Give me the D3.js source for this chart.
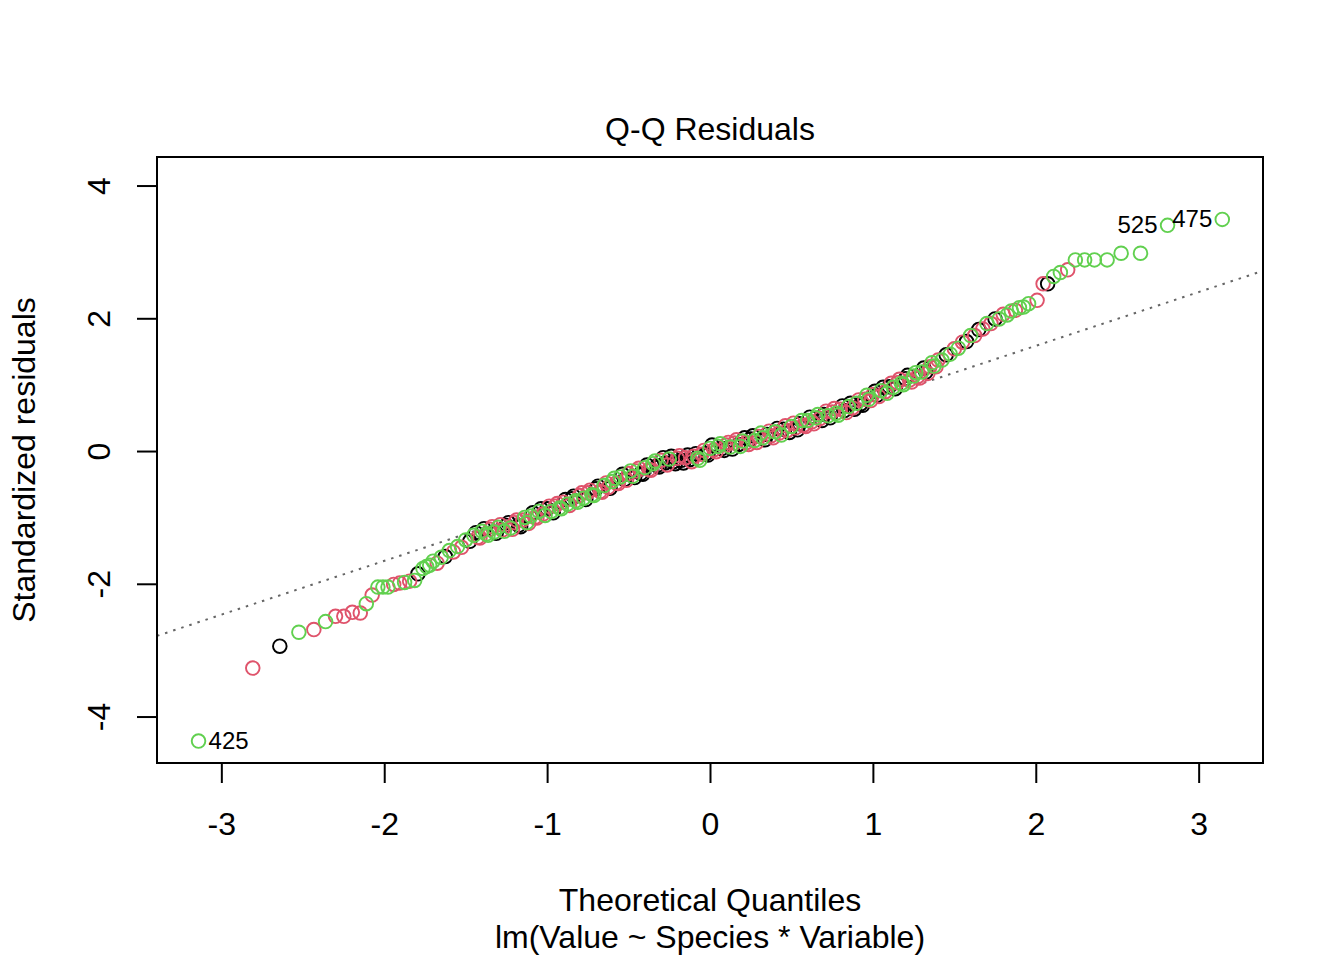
<!DOCTYPE html>
<html>
<head>
<meta charset="utf-8">
<script src="https://cdn.jsdelivr.net/npm/d3@7"></script>
<style>
  html, body { margin: 0; padding: 0; background: #fff; }
  svg { display: block; font-family: "Liberation Sans", Arial, Helvetica, sans-serif; }
</style>
</head>
<body>
<svg id="chart" width="1344" height="960"></svg>
<script>
// theoretical quantiles and standardized residuals
var qx = [
  -3.140, -2.807, -2.641, -2.524, -2.432, -2.360, -2.299, -2.248, -2.196, -2.147,
  -2.110, -2.074, -2.039, -2.008, -1.977, -1.942, -1.905, -1.875, -1.844, -1.813,
  -1.793, -1.762, -1.740, -1.721,
  -1.700, -1.675, -1.650, -1.625, -1.600, -1.575, -1.550, -1.525, -1.500, -1.475,
  -1.450, -1.425, -1.400, -1.375, -1.350, -1.325, -1.300, -1.275, -1.250, -1.225,
  -1.200, -1.175, -1.150, -1.125, -1.100, -1.075, -1.050, -1.025, -1.000, -0.975,
  -0.950, -0.925, -0.900, -0.875, -0.850, -0.825, -0.800, -0.775, -0.750, -0.725,
  -0.700, -0.675, -0.650, -0.625, -0.600, -0.575, -0.550, -0.525, -0.500, -0.475,
  -0.450, -0.425, -0.400, -0.375, -0.350, -0.325, -0.300, -0.275, -0.250, -0.225,
  -0.200, -0.175, -0.150, -0.125, -0.100, -0.075, -0.050, -0.025, 0.000, 0.025,
  0.050, 0.075, 0.100, 0.125, 0.150, 0.175, 0.200, 0.225, 0.250, 0.275,
  0.300, 0.325, 0.350, 0.375, 0.400, 0.425, 0.450, 0.475, 0.500, 0.525,
  0.550, 0.575, 0.600, 0.625, 0.650, 0.675, 0.700, 0.725, 0.750, 0.775,
  0.800, 0.825, 0.850, 0.875, 0.900, 0.925, 0.950, 0.975, 1.000, 1.025,
  1.050, 1.075, 1.100, 1.125, 1.150, 1.175, 1.200, 1.225, 1.250, 1.275,
  1.300, 1.325, 1.350, 1.375, 1.400, 1.425, 1.450, 1.475, 1.500, 1.525,
  1.550, 1.575, 1.600, 1.625, 1.650, 1.675, 1.700, 1.725, 1.750, 1.775,
  1.800, 1.825, 1.850, 1.875, 1.900, 1.925,
  1.956, 2.008, 2.045, 2.073, 2.110, 2.151, 2.196, 2.243, 2.300, 2.360,
  2.438, 2.524, 2.643, 2.809, 3.145,
  // second pass through the crowded middle of the band
  -1.4375, -1.4125, -1.3875, -1.3625, -1.3375, -1.3125, -1.2875, -1.2625, -1.2375, -1.2125,
  -1.1875, -1.1625, -1.1375, -1.1125, -1.0875, -1.0625, -1.0375, -1.0125, -0.9875, -0.9625,
  -0.9375, -0.9125, -0.8875, -0.8625, -0.8375, -0.8125, -0.7875, -0.7625, -0.7375, -0.7125,
  -0.6875, -0.6625, -0.6375, -0.6125, -0.5875, -0.5625, -0.5375, -0.5125, -0.4875, -0.4625,
  -0.4375, -0.4125, -0.3875, -0.3625, -0.3375, -0.3125, -0.2875, -0.2625, -0.2375, -0.2125,
  -0.1875, -0.1625, -0.1375, -0.1125, -0.0875, -0.0625, -0.0375, -0.0125,
  0.0125, 0.0375, 0.0625, 0.0875, 0.1125, 0.1375, 0.1625, 0.1875, 0.2125, 0.2375,
  0.2625, 0.2875, 0.3125, 0.3375, 0.3625, 0.3875, 0.4125, 0.4375, 0.4625, 0.4875,
  0.5125, 0.5375, 0.5625, 0.5875, 0.6125, 0.6375, 0.6625, 0.6875, 0.7125, 0.7375,
  0.7625, 0.7875, 0.8125, 0.8375, 0.8625, 0.8875, 0.9125, 0.9375, 0.9625, 0.9875,
  1.0125, 1.0375, 1.0625, 1.0875, 1.1125, 1.1375, 1.1625, 1.1875, 1.2125, 1.2375,
  1.2625, 1.2875, 1.3125, 1.3375, 1.3625, 1.3875
];
var res = [
  -4.37, -3.27, -2.94, -2.73, -2.69, -2.57, -2.49, -2.49, -2.43, -2.44,
  -2.30, -2.17, -2.05, -2.05, -2.05, -2.01, -1.99, -1.98, -1.96, -1.95,
  -1.85, -1.77, -1.74, -1.72,
  -1.66, -1.69, -1.60, -1.59, -1.50, -1.52, -1.44, -1.45, -1.34, -1.36,
  -1.27, -1.30, -1.21, -1.25, -1.18, -1.22, -1.15, -1.19, -1.12, -1.16,
  -1.08, -1.12, -1.04, -1.08, -0.98, -1.00, -0.91, -0.95, -0.87, -0.91,
  -0.83, -0.86, -0.77, -0.80, -0.72, -0.75, -0.67, -0.71, -0.63, -0.66,
  -0.57, -0.61, -0.52, -0.55, -0.46, -0.48, -0.39, -0.43, -0.34, -0.38,
  -0.30, -0.34, -0.25, -0.28, -0.19, -0.22, -0.14, -0.18, -0.12, -0.16,
  -0.11, -0.14, -0.10, -0.13, -0.08, -0.11, -0.05, -0.04, 0.04, 0.02,
  0.07, 0.04, 0.09, 0.06, 0.12, 0.10, 0.15, 0.13, 0.18, 0.16,
  0.22, 0.20, 0.25, 0.23, 0.29, 0.27, 0.33, 0.31, 0.37, 0.35,
  0.41, 0.39, 0.46, 0.44, 0.50, 0.49, 0.55, 0.53, 0.59, 0.57,
  0.63, 0.61, 0.67, 0.65, 0.72, 0.71, 0.78, 0.78, 0.85, 0.84,
  0.91, 0.89, 0.97, 0.96, 1.03, 1.02, 1.09, 1.07, 1.13, 1.12,
  1.19, 1.19, 1.27, 1.28, 1.37, 1.37, 1.45, 1.46, 1.54, 1.55,
  1.64, 1.65, 1.74, 1.74, 1.83, 1.84, 1.92, 1.92, 1.99, 1.99,
  2.06, 2.05, 2.11, 2.12, 2.16, 2.17,
  2.22, 2.27, 2.52, 2.52, 2.63, 2.69, 2.73, 2.88, 2.88, 2.88,
  2.88, 2.98, 2.98, 3.40, 3.49,
  -1.23, -1.31, -1.17, -1.27, -1.14, -1.24, -1.11, -1.21, -1.08, -1.18,
  -1.04, -1.14, -1.00, -1.09, -0.93, -1.01, -0.87, -0.97, -0.83, -0.93,
  -0.79, -0.87, -0.73, -0.82, -0.68, -0.77, -0.63, -0.73, -0.59, -0.67,
  -0.53, -0.62, -0.48, -0.56, -0.41, -0.49, -0.35, -0.44, -0.30, -0.40,
  -0.26, -0.35, -0.21, -0.29, -0.15, -0.24, -0.10, -0.21, -0.08, -0.19,
  -0.07, -0.18, -0.06, -0.16, -0.04, -0.14, 0.01, -0.06,
  0.09, -0.01, 0.11, 0.01, 0.13, 0.03, 0.17, 0.07, 0.20, 0.10,
  0.23, 0.13, 0.27, 0.17, 0.30, 0.20, 0.34, 0.24, 0.38, 0.28,
  0.42, 0.32, 0.46, 0.37, 0.51, 0.41, 0.55, 0.46, 0.60, 0.50,
  0.64, 0.54, 0.68, 0.58, 0.72, 0.63, 0.77, 0.69, 0.84, 0.76,
  0.90, 0.82, 0.96, 0.87, 1.02, 0.94, 1.08, 1.00, 1.14, 1.04,
  1.18, 1.10, 1.25, 1.17, 1.33, 1.27
];
// species: 0 setosa, 1 versicolor, 2 virginica
var grp = [
  2, 1, 0, 2, 1, 2, 1, 1, 1, 1,
  2, 1, 2, 2, 2, 1, 1, 2, 1, 2,
  0, 2, 2, 2,
  2, 1, 2, 0, 2, 1, 2, 1, 2, 0,
  2, 1, 2, 2, 1, 2, 2, 1, 0, 2,
  1, 0, 1, 2, 2, 1, 2, 1, 0, 2,
  1, 2, 1, 2, 0, 2, 1, 2, 1, 2,
  0, 1, 2, 1, 2, 1, 2, 0, 1, 2,
  1, 0, 2, 1, 2, 0, 1, 0, 2, 0,
  1, 0, 1, 0, 1, 2, 1, 0, 2, 1,
  2, 0, 1, 2, 1, 0, 2, 1, 0, 2,
  1, 2, 0, 1, 2, 1, 0, 1, 2, 1,
  0, 1, 2, 1, 2, 1, 0, 2, 1, 2,
  1, 0, 2, 1, 2, 0, 1, 2, 1, 0,
  2, 1, 0, 2, 1, 2, 0, 1, 2, 1,
  2, 0, 1, 2, 1, 2, 0, 2, 1, 2,
  1, 0, 2, 1, 0, 1, 2, 1, 0, 2,
  1, 2, 2, 1, 2, 2,
  2, 1, 1, 0, 2, 2, 1, 2, 2, 2,
  2, 2, 2, 2, 2,
  0, 1, 0, 2, 1, 0, 1, 2, 0, 1,
  1, 0, 2, 1, 0, 1, 0, 2, 1, 0,
  1, 2, 0, 1, 0, 2, 1, 0, 1, 2,
  0, 1, 1, 0, 2, 1, 0, 1, 2, 0,
  1, 0, 0, 1, 2, 0, 0, 1, 0, 0,
  1, 0, 0, 1, 0, 2, 1, 0,
  0, 1, 2, 0, 1, 0, 1, 2, 0, 1,
  0, 1, 2, 0, 1, 1, 0, 2, 1, 0,
  1, 0, 2, 1, 0, 1, 2, 0, 1, 0,
  1, 2, 0, 1, 0, 0, 1, 0, 2, 1,
  0, 1, 0, 2, 1, 0, 1, 2, 0, 1,
  2, 1, 0, 1, 2, 1
];
var idLabels = [{at: 0, text: "425"}, {at: 184, text: "475"}, {at: 183, text: "525"}];
var xTicks = [-3, -2, -1, 0, 1, 2, 3];
var yTicks = [-4, -2, 0, 2, 4];
var qqLine = {intercept: -0.035, slope: 0.81};
var colors = ["#000000", "#DF536B", "#61D04F"];

var box = {left: 157, right: 1263, top: 157, bottom: 763};
var svg = d3.select("#chart");

var x = d3.scaleLinear().domain([-3.395, 3.395]).range([box.left, box.right]);
var y = d3.scaleLinear().domain([-4.70, 4.43]).range([box.bottom, box.top]);

var pts = qx.map(function(v, i){ return {x: v, y: res[i], g: grp[i], i: i}; });
// drawn setosa first, virginica on top
pts.sort(function(a, b){ return a.g - b.g || a.i - b.i; });

svg.append("clipPath").attr("id", "plotclip").append("rect")
  .attr("x", box.left).attr("y", box.top)
  .attr("width", box.right - box.left).attr("height", box.bottom - box.top);

// dotted qq line
var xd = x.domain();
svg.append("line")
  .attr("clip-path", "url(#plotclip)")
  .attr("x1", x(xd[0])).attr("y1", y(qqLine.intercept + qqLine.slope * xd[0]))
  .attr("x2", x(xd[1])).attr("y2", y(qqLine.intercept + qqLine.slope * xd[1]))
  .attr("stroke", "#666666").attr("stroke-width", 2)
  .attr("stroke-dasharray", "2.5,6");

svg.append("g").selectAll("circle").data(pts).enter().append("circle")
  .attr("cx", function(d){ return x(d.x); })
  .attr("cy", function(d){ return y(d.y); })
  .attr("r", 6.8)
  .attr("fill", "none")
  .attr("stroke", function(d){ return colors[d.g]; })
  .attr("stroke-width", 1.9);

// point id labels: left half text to the right, right half text to the left
svg.append("g").selectAll("text").data(idLabels).enter().append("text")
  .attr("x", function(d){ return x(qx[d.at]) + (qx[d.at] < 0 ? 10 : -10); })
  .attr("y", function(d){ return y(res[d.at]) + 8; })
  .attr("text-anchor", function(d){ return qx[d.at] < 0 ? "start" : "end"; })
  .attr("font-size", 24)
  .text(function(d){ return d.text; });

// axes
var gx = svg.append("g").attr("transform", "translate(0," + box.bottom + ")")
  .call(d3.axisBottom(x).tickValues(xTicks).tickSize(20).tickFormat(function(d){ return String(d); }));
gx.select(".domain").remove();
gx.selectAll("line").attr("stroke", "#000").attr("stroke-width", 2);
gx.selectAll("text").attr("y", 72).attr("dy", null)
  .attr("font-size", 32).attr("fill", "#000").attr("font-family", null);

var gy = svg.append("g").attr("transform", "translate(" + box.left + ",0)")
  .call(d3.axisLeft(y).tickValues(yTicks).tickSize(20).tickFormat(function(d){ return String(d); }));
gy.select(".domain").remove();
gy.selectAll("line").attr("stroke", "#000").attr("stroke-width", 2);
gy.selectAll("text").attr("x", null).attr("dy", null)
  .attr("transform", "translate(-47,0) rotate(-90)")
  .attr("text-anchor", "middle")
  .attr("font-size", 32).attr("fill", "#000").attr("font-family", null);

svg.append("rect")
  .attr("x", box.left).attr("y", box.top)
  .attr("width", box.right - box.left).attr("height", box.bottom - box.top)
  .attr("fill", "none").attr("stroke", "#000").attr("stroke-width", 2);

var cx = (box.left + box.right) / 2;
svg.append("text").attr("x", cx).attr("y", 140).attr("text-anchor", "middle")
  .attr("font-size", 32).text("Q-Q Residuals");
svg.append("text").attr("x", cx).attr("y", 911).attr("text-anchor", "middle")
  .attr("font-size", 32).text("Theoretical Quantiles");
svg.append("text").attr("x", cx).attr("y", 948).attr("text-anchor", "middle")
  .attr("font-size", 32).text("lm(Value ~ Species * Variable)");
svg.append("text")
  .attr("transform", "translate(35," + ((box.top + box.bottom) / 2) + ") rotate(-90)")
  .attr("text-anchor", "middle")
  .attr("font-size", 32).text("Standardized residuals");
</script>
</body>
</html>
